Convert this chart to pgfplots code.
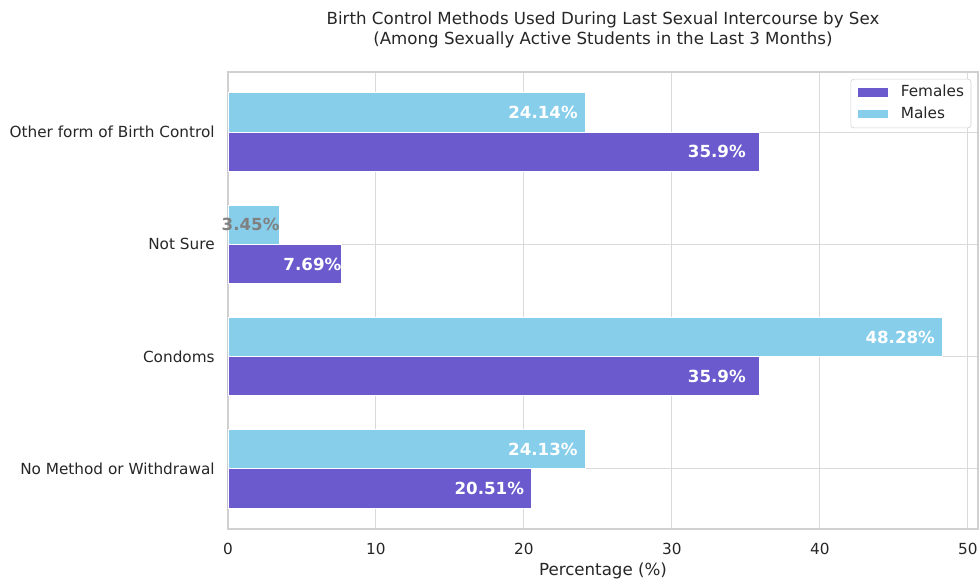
\documentclass[border=0pt]{standalone}
\usepackage{fontspec}
\setmainfont{DejaVu Sans}
\usepackage{pgfplots}
\pgfplotsset{compat=1.18}

\definecolor{fem}{HTML}{6A5ACD}
\definecolor{mal}{HTML}{87CEEB}
\definecolor{txt}{HTML}{262626}
\definecolor{gridc}{HTML}{DADADA}
\definecolor{spine}{HTML}{D0D0D0}

% flat patch in the legend instead of the two small bars
\pgfplotsset{
    xbar legend/.style={
        legend image code/.code={
            \fill[##1, draw=none, sharp corners] (0pt,-2.9pt) rectangle (21.6pt,2.9pt);
            \path[draw=none, fill=none] (0pt,0pt) -- (31pt,0pt);
        }
    }
}

\begin{document}
\begin{tikzpicture}
% page = 979 x 581 px at 0.72pt per px, axis box lower left at origin
\useasboundingbox (-164.16pt,-37.44pt) rectangle (540.72pt,380.88pt);
\begin{axis}[
    at={(0,0)}, anchor=south west,
    scale only axis,
    width=540pt, height=329pt,
    xbar, bar width=0.35,
    xmin=0, xmax=50.69,
    ymin=-0.535, ymax=3.535,
    ytick={0,1,2,3},
    yticklabels={No Method or Withdrawal, Condoms, Not Sure, Other form of Birth Control},
    xtick={0,10,20,30,40,50},
    grid=major,
    major grid style={draw=gridc, line width=0.75pt},
    axis line style={draw=spine, line width=1pt},
    major tick length=0pt,
    tick label style={font=\fontsize{11}{13}\selectfont, text=txt, inner sep=0pt},
    /pgf/number format/assume math mode=true,
    yticklabel style={anchor=east, xshift=-9.4pt},
    xticklabel style={anchor=north, yshift=-10pt},
    xlabel={Percentage (\%)},
    xlabel style={at={(axis description cs:0.5,0)}, anchor=north, inner sep=0pt,
        yshift=-24pt, font=\fontsize{12}{14}\selectfont, text=txt},
    title={Birth Control Methods Used During Last Sexual Intercourse by Sex\\(Among Sexually Active Students in the Last 3 Months)},
    title style={at={(axis description cs:0.5,1)}, anchor=south, align=center,
        inner sep=0pt, yshift=11.5pt, font=\fontsize{12}{14.4}\selectfont, text=txt},
    legend style={at={(axis description cs:0.991,0.985)}, anchor=north east,
        draw=spine, rounded corners=2pt, fill=white,
        font=\fontsize{11}{13}\selectfont, text=txt,
        inner xsep=5pt, inner ysep=4.3pt, row sep=5.2pt,
        nodes={inner sep=0pt, text height=8.3pt, text depth=2.3pt}},
    legend cell align=left,
    point meta=explicit symbolic,
    nodes near coords,
    every node near coord/.append style={anchor=east, xshift=-5pt, inner sep=0pt,
        text height=, text depth=,
        text=white, font=\bfseries\fontsize{12}{14}\selectfont},
]

\addplot[fill=fem, draw=white, line width=0.7pt, bar shift=-0.175]
coordinates {
    (20.51,0) [20.51\%]
    (35.9,1)  [35.9\%\kern4.3pt]
    (7.69,2)  [7.69\%\kern-5pt]
    (35.9,3)  [35.9\%\kern4.3pt]
};
\addlegendentry{Females}

\addplot[fill=mal, draw=white, line width=0.7pt, bar shift=0.175]
coordinates {
    (24.13,0) [24.13\%]
    (48.28,1) [48.28\%]
    (3.45,2)  [\textcolor{gray}{3.45\%}\kern-5.7pt]
    (24.14,3) [24.14\%]
};
\addlegendentry{Males}

\end{axis}
\end{tikzpicture}
\end{document}
